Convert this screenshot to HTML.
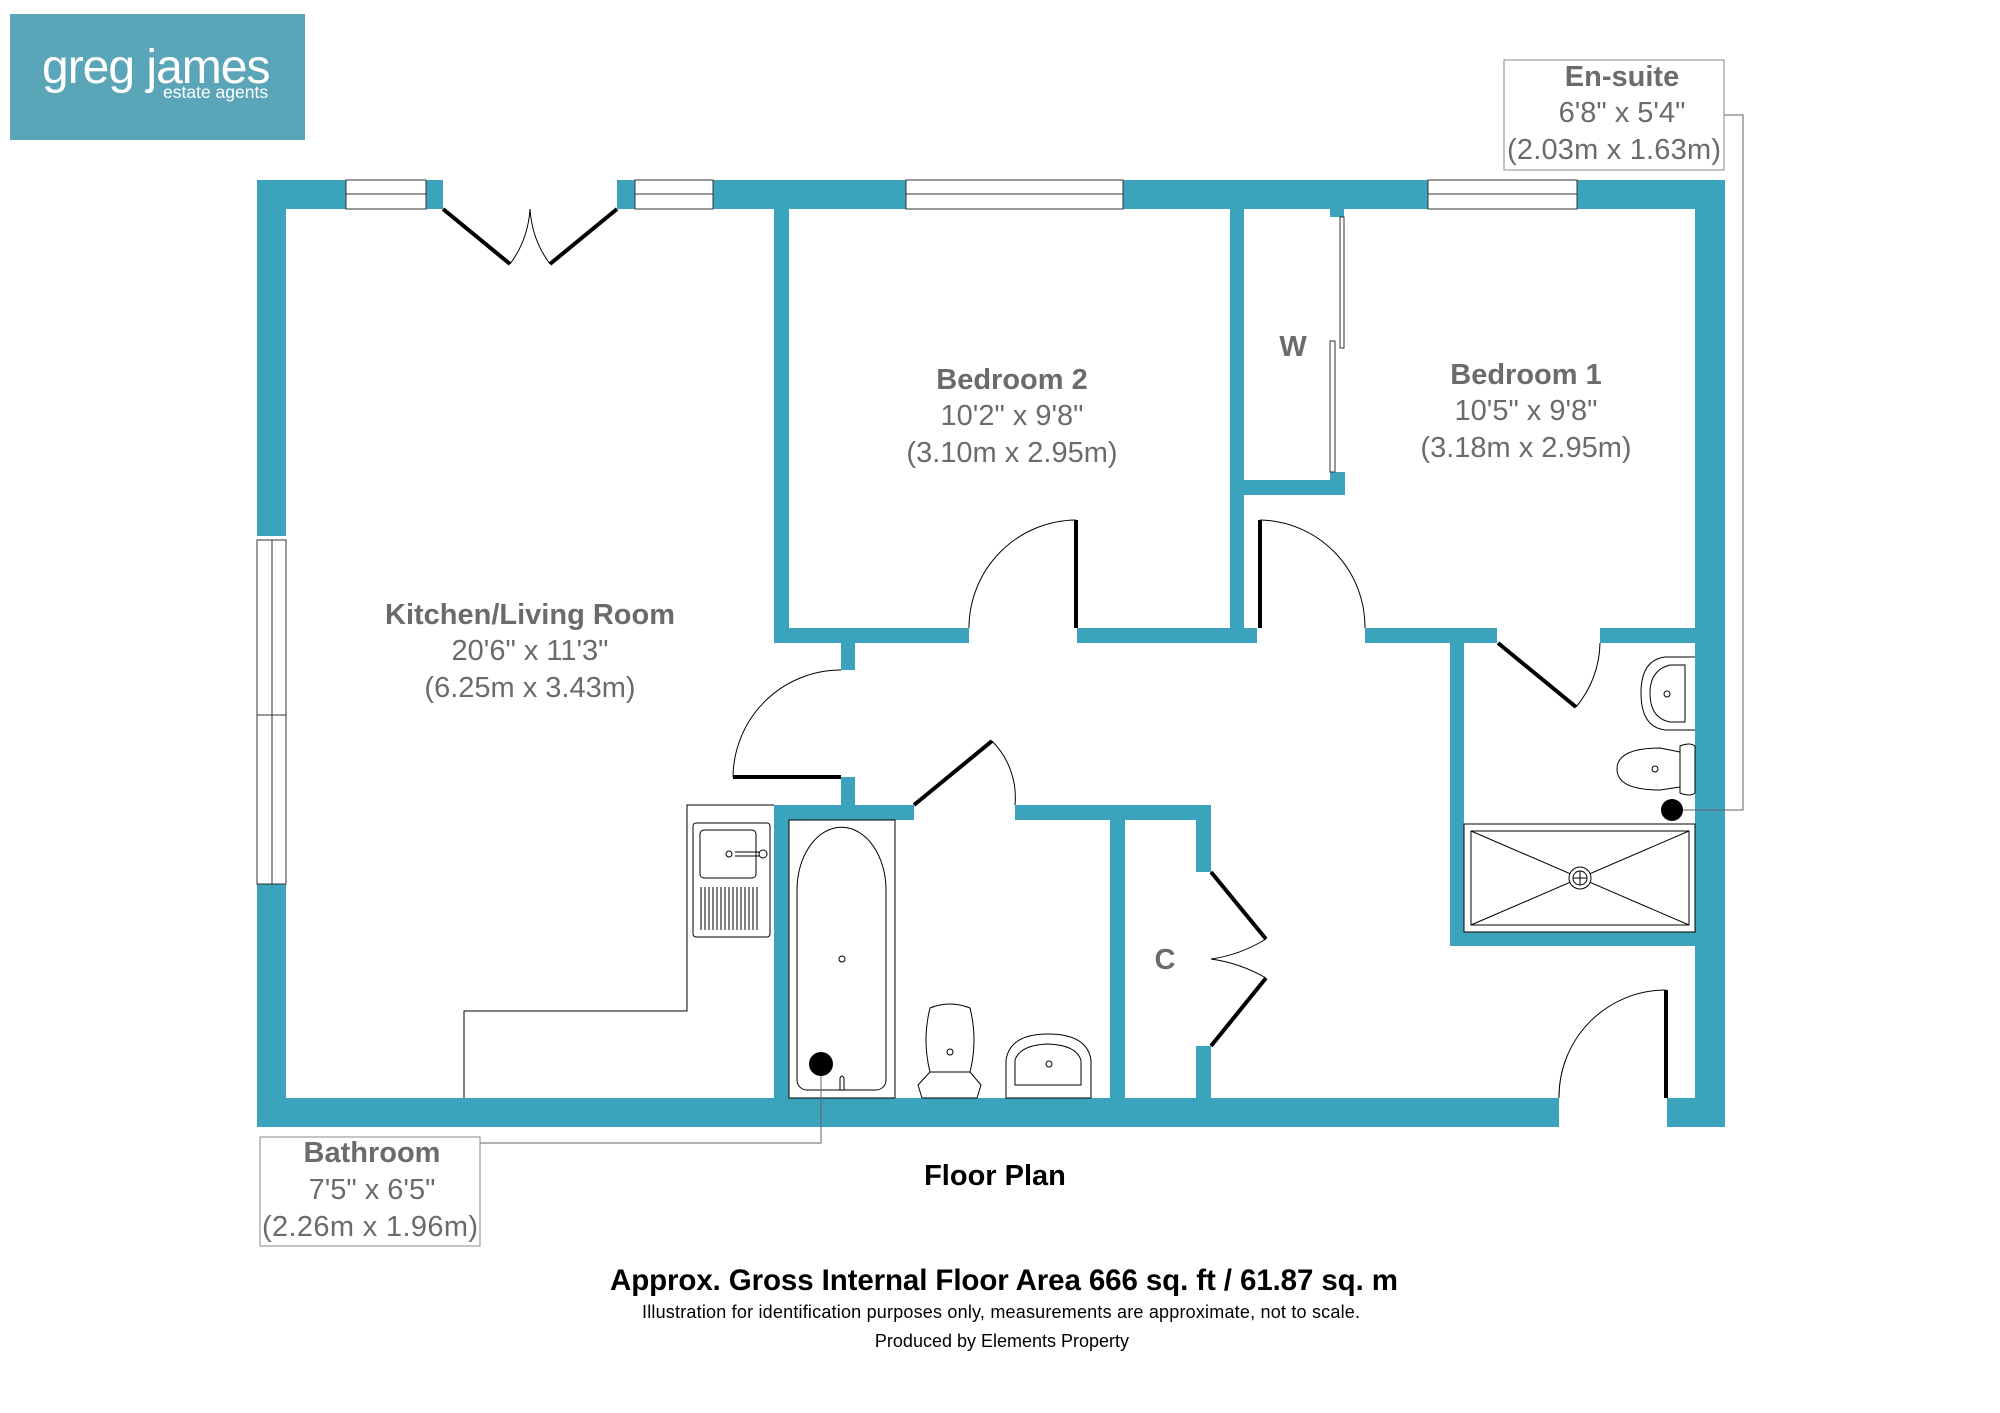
<!DOCTYPE html>
<html><head><meta charset="utf-8"><style>
html,body{margin:0;padding:0;background:#fff;}
svg{display:block;}
text{font-family:"Liberation Sans",Arial,sans-serif;}
.l{fill:#6b6b6b;font-size:29px;text-anchor:middle;}
.b{font-weight:bold;}
</style></head><body>
<svg width="2000" height="1413" viewBox="0 0 2000 1413" xmlns="http://www.w3.org/2000/svg">
<!-- logo -->
<rect x="10" y="14" width="295" height="126" fill="#5aa6b8"/>
<text x="42" y="83" font-size="48" fill="#fff" style="letter-spacing:-1px">greg james</text>
<text x="163" y="98" font-size="17.5" fill="#fff">estate agents</text>

<g fill="#3ba3bb">
<rect x="257" y="180" width="29" height="356"/>
<rect x="257" y="884" width="29" height="243"/>
<rect x="257" y="180" width="89" height="29"/>
<rect x="426" y="180" width="17" height="29"/>
<rect x="617" y="180" width="18" height="29"/>
<rect x="713" y="180" width="193" height="29"/>
<rect x="1123" y="180" width="305" height="29"/>
<rect x="1577" y="180" width="148" height="29"/>
<rect x="1695" y="180" width="30" height="947"/>
<rect x="257" y="1098" width="1302" height="29"/>
<rect x="1667" y="1098" width="58" height="29"/>
<rect x="774" y="209" width="15" height="434"/>
<rect x="774" y="628" width="195" height="15"/>
<rect x="841" y="643" width="14" height="27"/>
<rect x="841" y="777" width="14" height="28"/>
<rect x="1077" y="628" width="180" height="15"/>
<rect x="1230" y="209" width="14" height="434"/>
<rect x="1330" y="209" width="14" height="8"/>
<rect x="1244" y="480" width="101" height="15"/>
<rect x="1330" y="472" width="15" height="23"/>
<rect x="1365" y="628" width="132" height="15"/>
<rect x="1600" y="628" width="95" height="15"/>
<rect x="1450" y="628" width="14" height="318"/>
<rect x="1450" y="932" width="245" height="14"/>
<rect x="774" y="805" width="140" height="15"/>
<rect x="774" y="805" width="15" height="293"/>
<rect x="1015" y="805" width="196" height="15"/>
<rect x="1110" y="805" width="15" height="293"/>
<rect x="1196" y="805" width="15" height="67"/>
<rect x="1196" y="1046" width="15" height="52"/>
</g>

<g fill="#fff" stroke="#333" stroke-width="1">
<rect x="346" y="180" width="80" height="29"/><line x1="346" y1="194" x2="426" y2="194"/>
<rect x="635" y="180" width="78" height="29"/><line x1="635" y1="194" x2="713" y2="194"/>
<rect x="906" y="180" width="217" height="29"/><line x1="906" y1="194" x2="1123" y2="194"/>
<rect x="1428" y="180" width="149" height="29"/><line x1="1428" y1="194" x2="1577" y2="194"/>
<rect x="257" y="540" width="29" height="175"/><line x1="272" y1="540" x2="272" y2="715"/>
<rect x="257" y="715" width="29" height="169"/><line x1="272" y1="715" x2="272" y2="884"/>
<rect x="1340" y="217" width="4" height="131"/>
<rect x="1330" y="341" width="5" height="131"/>
</g>

<g stroke="#000" stroke-width="4" fill="none">
<line x1="443" y1="209" x2="510" y2="264"/>
<line x1="617" y1="209" x2="550" y2="264"/>
<line x1="1076" y1="520" x2="1076" y2="628"/>
<line x1="1260" y1="520" x2="1260" y2="628"/>
<line x1="1498" y1="643" x2="1576" y2="707"/>
<line x1="733" y1="777" x2="841" y2="777"/>
<line x1="914" y1="805" x2="992" y2="741"/>
<line x1="1211" y1="872" x2="1266" y2="939"/>
<line x1="1211" y1="1046" x2="1266" y2="978"/>
<line x1="1666" y1="990" x2="1666" y2="1098"/>
</g>
<g stroke="#000" stroke-width="1" fill="none">
<path d="M510 264 Q528 240 530 209 Q532 240 550 264"/>
<path d="M1076 520 A108 108 0 0 0 969 628"/>
<path d="M1260 520 A107 107 0 0 1 1365 628"/>
<path d="M1576 707 A102 102 0 0 0 1600 643"/>
<path d="M733 777 A108 108 0 0 1 841 670"/>
<path d="M992 741 A80 80 0 0 1 1015 805"/>
<path d="M1266 939 Q1240 955 1211 959 Q1240 963 1266 978"/>
<path d="M1666 990 A107 107 0 0 0 1559 1098"/>
<path d="M774 805 H687 V1011 H464 V1098"/>
<rect x="693" y="823" width="77" height="114" rx="3"/>
<rect x="700" y="830" width="56" height="48" rx="4"/>
<circle cx="729" cy="854" r="3"/><path d="M735 852 H760 M735 856 H760"/>
<circle cx="763" cy="854" r="4"/>
<path d="M701 887 V930 M705 887 V930 M709 887 V930 M713 887 V930 M717 887 V930 M721 887 V930 M725 887 V930 M729 887 V930 M733 887 V930 M737 887 V930 M741 887 V930 M745 887 V930 M749 887 V930 M753 887 V930 M757 887 V930"/>
<rect x="789" y="820" width="106" height="278"/>
<path d="M797 890 A44 62 0 0 1 886 890 V1080 A10 10 0 0 1 876 1090 H807 A10 10 0 0 1 797 1080 Z"/>
<circle cx="842" cy="959" r="3"/>
<path d="M840 1090 V1078 Q842 1074 844 1078 V1090"/>
<path d="M930 1008 Q950 1000 970 1008 Q978 1040 970 1072 H930 Q922 1040 930 1008 Z"/>
<path d="M930 1072 L918 1085 L922 1098 H977 L981 1085 L970 1072"/>
<circle cx="950" cy="1052" r="3"/>
<path d="M1006 1098 V1060 Q1010 1034 1048 1034 Q1087 1034 1091 1060 V1098 Z"/>
<path d="M1015 1085 V1060 Q1020 1045 1048 1044 Q1076 1045 1081 1060 V1085 Z"/>
<circle cx="1049" cy="1064" r="3"/>
<path d="M1695 657 H1665 Q1641 660 1641 693 Q1641 727 1665 730 H1695"/>
<path d="M1685 665 H1670 Q1650 670 1650 693 Q1650 718 1670 722 H1685 Z"/>
<circle cx="1667" cy="694" r="3"/>
<path d="M1680 746 Q1690 742 1695 746 V793 Q1690 797 1680 793 Z"/>
<path d="M1680 752 L1660 748 Q1617 748 1617 769 Q1617 790 1660 790 L1680 787"/>
<circle cx="1655" cy="769" r="3"/>
<rect x="1464" y="824" width="231" height="108"/>
<rect x="1471" y="831" width="218" height="94"/>
<line x1="1471" y1="831" x2="1689" y2="925"/>
<line x1="1689" y1="831" x2="1471" y2="925"/>
<circle cx="1580" cy="878" r="11" fill="#fff"/>
<circle cx="1580" cy="878" r="7"/>
<path d="M1573 878 H1587 M1580 871 V885"/>
<path d="M1724 115 H1743 V810 H1672" stroke="#666"/>
<path d="M821 1064 V1143 H480" stroke="#666"/>
</g>
<circle cx="821" cy="1064" r="12" fill="#000"/>
<circle cx="1672" cy="810" r="11" fill="#000"/>

<rect x="1504" y="60" width="220" height="110" fill="#fff" stroke="#888"/>
<rect x="260" y="1137" width="220" height="109" fill="#fff" stroke="#888"/>

<text class="l b" x="530" y="624">Kitchen/Living Room</text>
<text class="l" x="530" y="660">20'6" x 11'3"</text>
<text class="l" x="530" y="697">(6.25m x 3.43m)</text>
<text class="l b" x="1012" y="389">Bedroom 2</text>
<text class="l" x="1012" y="425">10'2" x 9'8"</text>
<text class="l" x="1012" y="462">(3.10m x 2.95m)</text>
<text class="l b" x="1526" y="384">Bedroom 1</text>
<text class="l" x="1526" y="420">10'5" x 9'8"</text>
<text class="l" x="1526" y="457">(3.18m x 2.95m)</text>
<text class="l b" x="1293" y="356">W</text>
<text class="l b" x="1165" y="969">C</text>
<text class="l b" x="1622" y="86">En-suite</text>
<text class="l" x="1622" y="122">6'8" x 5'4"</text>
<text class="l" x="1614" y="159" textLength="214">(2.03m x 1.63m)</text>
<text class="l b" x="372" y="1162">Bathroom</text>
<text class="l" x="372" y="1199">7'5" x 6'5"</text>
<text class="l" x="370" y="1236" textLength="216">(2.26m x 1.96m)</text>

<text x="995" y="1185" font-size="29" font-weight="bold" text-anchor="middle" fill="#000">Floor Plan</text>
<text x="1004" y="1290" font-size="29.5" font-weight="bold" text-anchor="middle" fill="#000" textLength="788">Approx. Gross Internal Floor Area 666 sq. ft / 61.87 sq. m</text>
<text x="1001" y="1318" font-size="18" text-anchor="middle" fill="#000" textLength="718">Illustration for identification purposes only, measurements are approximate, not to scale.</text>
<text x="1002" y="1347" font-size="18" text-anchor="middle" fill="#000">Produced by Elements Property</text>
</svg>
</body></html>
